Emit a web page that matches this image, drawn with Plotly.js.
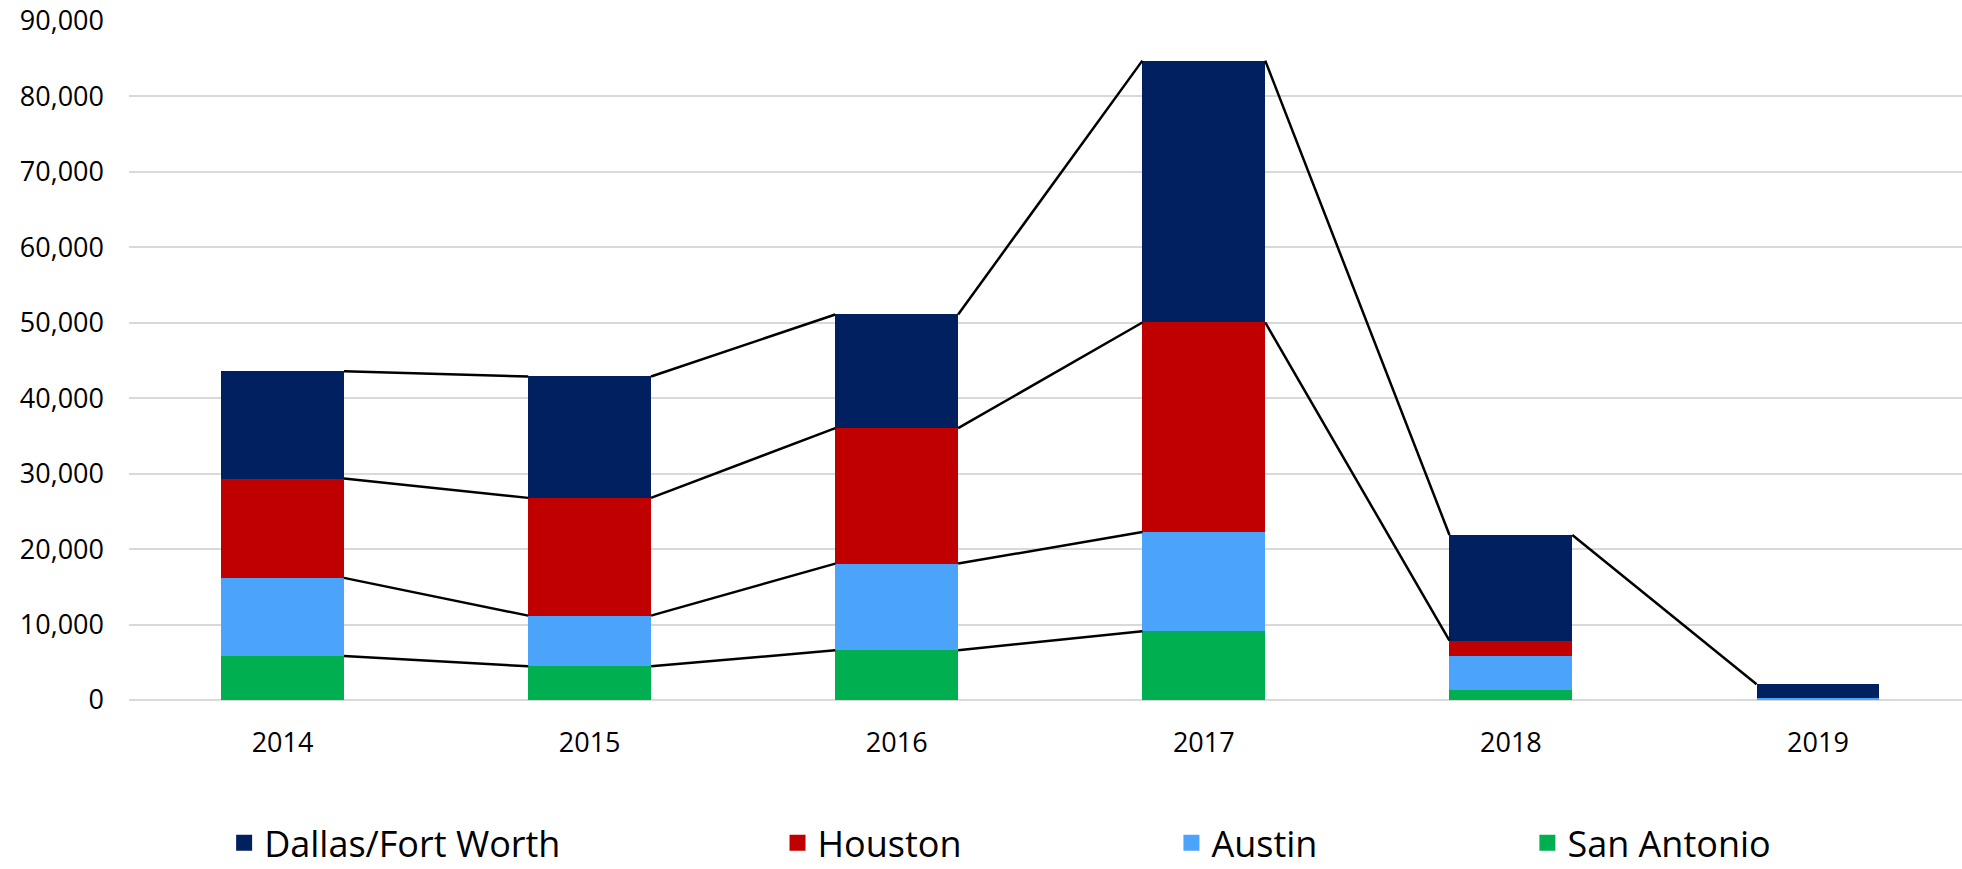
<!DOCTYPE html>
<html>
<head>
<meta charset="utf-8">
<script src="https://cdn.plot.ly/plotly-3.0.1.min.js"></script>
<style>html,body{margin:0;padding:0;background:#fff;}#chart{width:1962px;height:869px;}</style>
</head>
<body>
<div id="chart"></div>
<script>
// ---- data ----
const years = ['2014', '2015', '2016', '2017', '2018', '2019'];
const dallasFortWorth = [14230, 16090, 15070, 34710, 14010, 1900];
const houston = [13170, 15610, 17950, 27760, 2090, 0];
const austin = [10350, 6720, 11490, 13170, 4410, 200];
const sanAntonio = [5840, 4460, 6590, 9110, 1370, 0];
// number of consecutive years joined by a series line, per series
const seriesLineYears = { 'San Antonio': 4, 'Austin': 4, 'Houston': 5, 'Dallas/Fort Worth': 6 };

// ---- styling ----
const FONT = 'Open Sans, Liberation Sans, sans-serif';
const BAR_W = 0.4;
const series = [
  { name: 'San Antonio', values: sanAntonio, color: '#00B050', legend: 'legend4', lx: 0.7629 },
  { name: 'Austin', values: austin, color: '#4BA3FA', legend: 'legend3', lx: 0.5687 },
  { name: 'Houston', values: houston, color: '#C00000', legend: 'legend2', lx: 0.3538 },
  { name: 'Dallas/Fort Worth', values: dallasFortWorth, color: '#002060', legend: 'legend', lx: 0.0519 }
];
const xIdx = years.map((_, i) => i);

const traces = [];
series.forEach(s => {
  traces.push({
    type: 'bar', name: s.name, x: xIdx, y: s.values, width: BAR_W,
    marker: { color: s.color, line: { width: 0 } },
    showlegend: false, hoverinfo: 'skip'
  });
});

// series lines joining the top of each stacked segment
const cum = years.map(() => 0);
series.forEach(s => {
  s.values.forEach((v, i) => { cum[i] += v; });
  const top = cum.slice();
  const lx = [], ly = [];
  const n = seriesLineYears[s.name];
  for (let i = 0; i < n - 1; i++) {
    lx.push(i + BAR_W / 2, i + 1 - BAR_W / 2, null);
    ly.push(top[i], top[i + 1], null);
  }
  traces.push({
    type: 'scatter', mode: 'lines', x: lx, y: ly, showlegend: false,
    line: { color: '#000000', width: 2.5 }, hoverinfo: 'skip', cliponaxis: false
  });
});

// legend entries (square swatches)
series.forEach(s => {
  traces.push({
    type: 'scatter', mode: 'markers', name: s.name, x: [null], y: [null],
    marker: { symbol: 'square', size: 20, color: s.color, line: { width: 0 } },
    legend: s.legend, showlegend: true, hoverinfo: 'skip'
  });
});

const legendBase = {
  orientation: 'h', xanchor: 'left', yanchor: 'middle', y: -0.2105,
  font: { family: FONT, size: 36, color: '#000000' }, bgcolor: 'rgba(0,0,0,0)', borderwidth: 0
};
const layout = {
  width: 1962, height: 869,
  margin: { l: 129, r: 0, t: 21, b: 169, pad: 0, autoexpand: false },
  paper_bgcolor: '#ffffff', plot_bgcolor: '#ffffff',
  barmode: 'stack',
  showlegend: true,
  xaxis: {
    type: 'linear', range: [-0.5, 5.469], tickmode: 'array', tickvals: xIdx, ticktext: years,
    showgrid: false, zeroline: false, showline: false, ticks: '',
    ticklabelstandoff: 24, automargin: false,
    tickfont: { family: FONT, size: 27, color: '#000000' }, fixedrange: true
  },
  yaxis: {
    range: [0, 90000], tickmode: 'linear', tick0: 0, dtick: 10000, tickformat: ',d',
    showgrid: true, gridcolor: '#d9d9d9', gridwidth: 2,
    zeroline: true, zerolinecolor: '#d9d9d9', zerolinewidth: 2,
    showline: false, ticks: '', ticklabelstandoff: 24, automargin: false,
    tickfont: { family: FONT, size: 27, color: '#000000' }, fixedrange: true
  }
};
series.forEach(s => {
  layout[s.legend] = Object.assign({}, legendBase, { x: s.lx });
});

Plotly.newPlot('chart', traces, layout, { displayModeBar: false, staticPlot: true });
</script>
</body>
</html>
